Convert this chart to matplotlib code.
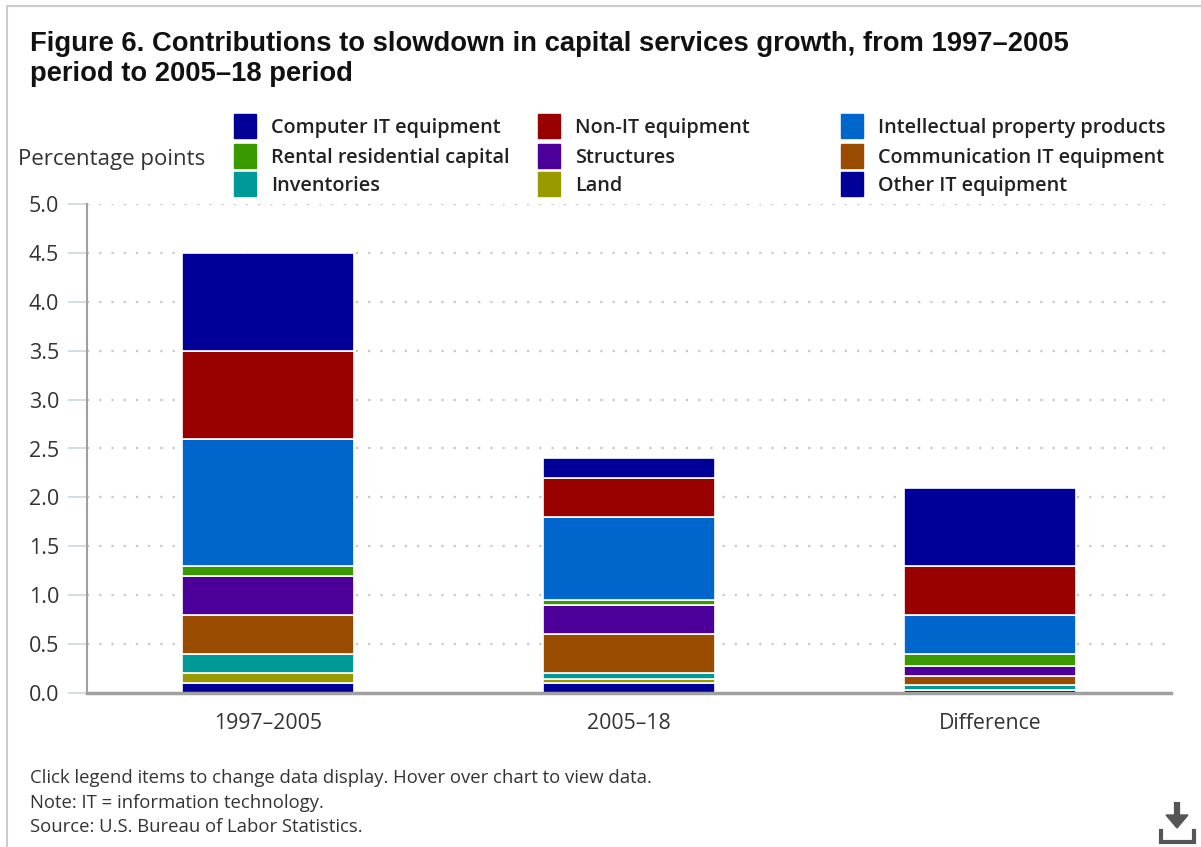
import matplotlib
matplotlib.use("Agg")
import matplotlib.pyplot as plt
from matplotlib.patches import Rectangle, Polygon
from matplotlib.lines import Line2D
import numpy as np

# Periods on the x axis
periods = ["1997\u20132005", "2005\u201318", "Difference"]

# Contributions (percentage points), bottom of the stack first
computer_it = [0.10, 0.10, 0.03]
land = [0.10, 0.04, 0.00]
inventories = [0.20, 0.06, 0.05]
communication_it = [0.40, 0.40, 0.09]
structures = [0.40, 0.30, 0.11]
rental_residential = [0.10, 0.05, 0.12]
ip_products = [1.30, 0.85, 0.40]
non_it = [0.90, 0.40, 0.50]
other_it = [1.00, 0.20, 0.80]

y_ticks = [0.0, 0.5, 1.0, 1.5, 2.0, 2.5, 3.0, 3.5, 4.0, 4.5, 5.0]

stack = [
    ("Computer IT equipment", computer_it, "#000099"),
    ("Land", land, "#999900"),
    ("Inventories", inventories, "#009999"),
    ("Communication IT equipment", communication_it, "#994c00"),
    ("Structures", structures, "#4c0099"),
    ("Rental residential capital", rental_residential, "#3b9900"),
    ("Intellectual property products", ip_products, "#0066cc"),
    ("Non-IT equipment", non_it, "#990000"),
    ("Other IT equipment", other_it, "#000099"),
]
colors = {name: c for name, _, c in stack}

legend_order = [
    ["Computer IT equipment", "Rental residential capital", "Inventories"],
    ["Non-IT equipment", "Structures", "Land"],
    ["Intellectual property products", "Communication IT equipment", "Other IT equipment"],
]

W, H = 1201, 847
fig = plt.figure(figsize=(W / 100, H / 100), dpi=100)
fig.patch.set_facecolor("white")

body_font = "Open Sans"
text_color = "#333333"
PX = 72 / 100  # points per pixel


def fx(px):
    return px / W


def fy(py):
    return 1 - py / H


ax = fig.add_axes([fx(87), fy(693), fx(1171) - fx(87), fy(204) - fy(693)])
ax.set_xlim(-0.5, 2.5)
ax.set_ylim(0, 5.0)

x = np.arange(len(periods))
bottom = np.zeros(len(periods))
for name, vals, col in stack:
    vals = np.array(vals)
    ax.bar(x, vals, width=0.476, bottom=bottom, color=col,
           edgecolor="white", linewidth=1.2, zorder=3)
    bottom += vals

# grid and axes styling
ax.set_yticks(y_ticks)
ax.set_yticklabels([f"{v:.1f}" for v in y_ticks], fontsize=15.5,
                   family=body_font, color=text_color)
for v in y_ticks[1:]:
    ax.axhline(v, color="#c8c8c8", linewidth=1.6, linestyle=(0, (1, 4.5)), zorder=1)
ax.tick_params(axis="y", length=19 * PX, width=1.2, color="#c9d7e6", pad=9 * PX)
ax.set_xticks(x)
ax.set_xticklabels(periods, fontsize=15.3, family=body_font, color=text_color)
ax.tick_params(axis="x", length=0, pad=20 * PX)
for s in ["top", "right"]:
    ax.spines[s].set_visible(False)
ax.spines["left"].set_color("#a0a0a0")
ax.spines["left"].set_linewidth(1.5)
ax.spines["bottom"].set_color("#a0a0a0")
ax.spines["bottom"].set_linewidth(2.5)
ax.spines["bottom"].set_zorder(4)

# Title
title_lines = ["Figure 6. Contributions to slowdown in capital services growth, from 1997\u20132005",
               "period to 2005\u201318 period"]
for i, line in enumerate(title_lines):
    fig.text(fx(30), fy(44 + 30 * i), line, family="Liberation Sans", weight="bold",
             fontsize=19.7, color="#111111", va="center", ha="left")

# Axis unit label
fig.text(fx(18), fy(159), "Percentage points", family=body_font, fontsize=16,
         color=text_color, va="center", ha="left")

# Legend drawn as three columns of swatches
col_x = [234, 538, 841]
row_y = [126, 156, 184]
for ci, names in enumerate(legend_order):
    for ri, name in enumerate(names):
        fig.patches.append(Rectangle((fx(col_x[ci]), fy(row_y[ri] + 12)), fx(22), 24 / H,
                                     transform=fig.transFigure, color=colors[name]))
        fig.text(fx(col_x[ci] + 37), fy(row_y[ri] + 2), name, family=body_font, weight="semibold",
                 fontsize=14.3, color="#222222", va="center", ha="left")

# Footer notes
footer = ["Click legend items to change data display. Hover over chart to view data.",
          "Note: IT = information technology.",
          "Source: U.S. Bureau of Labor Statistics."]
for i, line in enumerate(footer):
    fig.text(fx(30), fy(778 + 24.5 * i), line, family=body_font, fontsize=13.3,
             color=text_color, va="center", ha="left")

# Download icon
icon = "#555555"
fig.lines.append(Line2D([fx(1177), fx(1177)], [fy(802), fy(818)], transform=fig.transFigure,
                        color=icon, linewidth=4.5, solid_capstyle="butt"))
fig.patches.append(Polygon([[fx(1166), fy(815)], [fx(1188), fy(815)], [fx(1177), fy(828)]],
                           closed=True, transform=fig.transFigure, color=icon))
fig.lines.append(Line2D([fx(1161), fx(1161), fx(1194), fx(1194)],
                        [fy(831), fy(842), fy(842), fy(831)], transform=fig.transFigure,
                        color=icon, linewidth=3, solid_joinstyle="miter"))

# Page frame
fig.lines.append(Line2D([fx(7), fx(7), 1.0], [0.0, fy(6), fy(6)], transform=fig.transFigure,
                        color="#cccccc", linewidth=1.5))

fig.savefig("out.png", dpi=100, facecolor="white")
